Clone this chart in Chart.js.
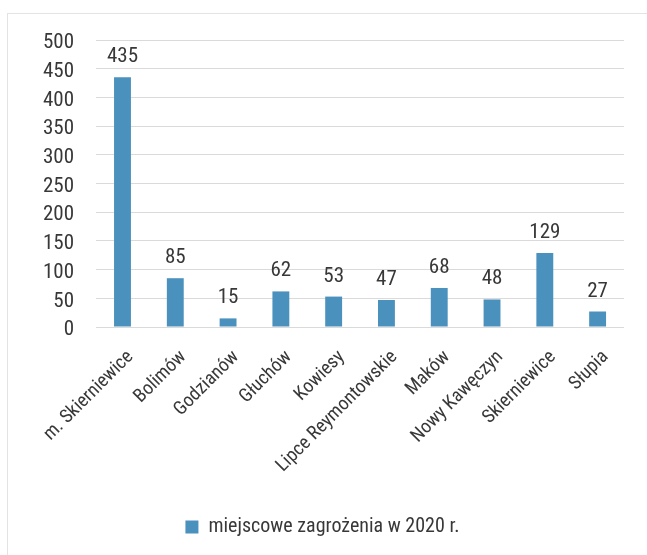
<!DOCTYPE html>
<html>
<head>
<meta charset="utf-8">
<script src="https://cdn.jsdelivr.net/npm/chart.js@4"></script>
<style>
html,body{margin:0;padding:0;background:#fff;}
#wrap{position:relative;width:647px;height:555px;}
#frame{position:absolute;left:7px;top:13px;width:640px;height:542px;border-left:1px solid #e3e3e3;border-top:1px solid #e3e3e3;box-sizing:border-box;}
canvas{position:absolute;left:0;top:0;}
</style>
</head>
<body>
<div id="wrap"><div id="frame"></div><canvas id="c" width="647" height="555"></canvas></div>
<script>
const categories = ['m. Skierniewice','Bolimów','Godzianów','Głuchów','Kowiesy','Lipce Reymontowskie','Maków','Nowy Kawęczyn','Skierniewice','Słupia'];
const values = [435, 85, 15, 62, 53, 47, 68, 48, 129, 27];
const seriesName = 'miejscowe zagrożenia w 2020 r.';
const yTicks = [0, 50, 100, 150, 200, 250, 300, 350, 400, 450, 500];

const FONT = "'Roboto Condensed','Liberation Sans',sans-serif";
const TXT = '#383838';
const BAR = '#4A91BD';

const labelPlugin = {
  id: 'barLabels',
  afterDatasetsDraw(chart) {
    const ctx = chart.ctx;
    const meta = chart.getDatasetMeta(0);
    ctx.save();
    ctx.font = '21px ' + FONT;
    ctx.fillStyle = TXT;
    ctx.textAlign = 'center';
    ctx.textBaseline = 'alphabetic';
    meta.data.forEach((el, i) => {
      ctx.fillText(String(values[i]), el.x, el.y - 15);
    });
    ctx.restore();
  }
};

Chart.defaults.font.family = FONT;
Chart.defaults.color = TXT;

new Chart(document.getElementById('c'), {
  type: 'bar',
  data: {
    labels: categories,
    datasets: [{
      label: seriesName,
      data: values,
      backgroundColor: BAR,
      borderWidth: 0,
      barPercentage: 0.32,
      categoryPercentage: 1.0
    }]
  },
  options: {
    responsive: false,
    animation: false,
    devicePixelRatio: 1,
    layout: { padding: { left: 21, right: 23, top: 40, bottom: 8 } },
    plugins: {
      legend: {
        position: 'bottom',
        labels: {
          font: { size: 20, family: FONT },
          color: TXT,
          boxWidth: 13,
          boxHeight: 13,
          padding: 10
        }
      },
      tooltip: { enabled: false }
    },
    scales: {
      x: {
        afterFit(scale) { scale.height = 180; scale.paddingLeft = 0; scale.paddingRight = 0; },
        grid: { display: false },
        border: { display: false },
        ticks: {
          font: { size: 19, family: FONT },
          color: TXT,
          maxRotation: 45,
          minRotation: 45,
          padding: 11,
          labelOffset: 8
        }
      },
      y: {
        min: 0,
        max: 500,
        afterBuildTicks(axis) { axis.ticks = yTicks.map(v => ({ value: v })); },
        grid: { color: '#dadada', lineWidth: 1, drawTicks: false },
        border: { display: false },
        ticks: {
          font: { size: 21, family: FONT },
          color: TXT,
          padding: 22,
          labelOffset: 3
        }
      }
    }
  },
  plugins: [labelPlugin]
});
</script>
</body>
</html>
